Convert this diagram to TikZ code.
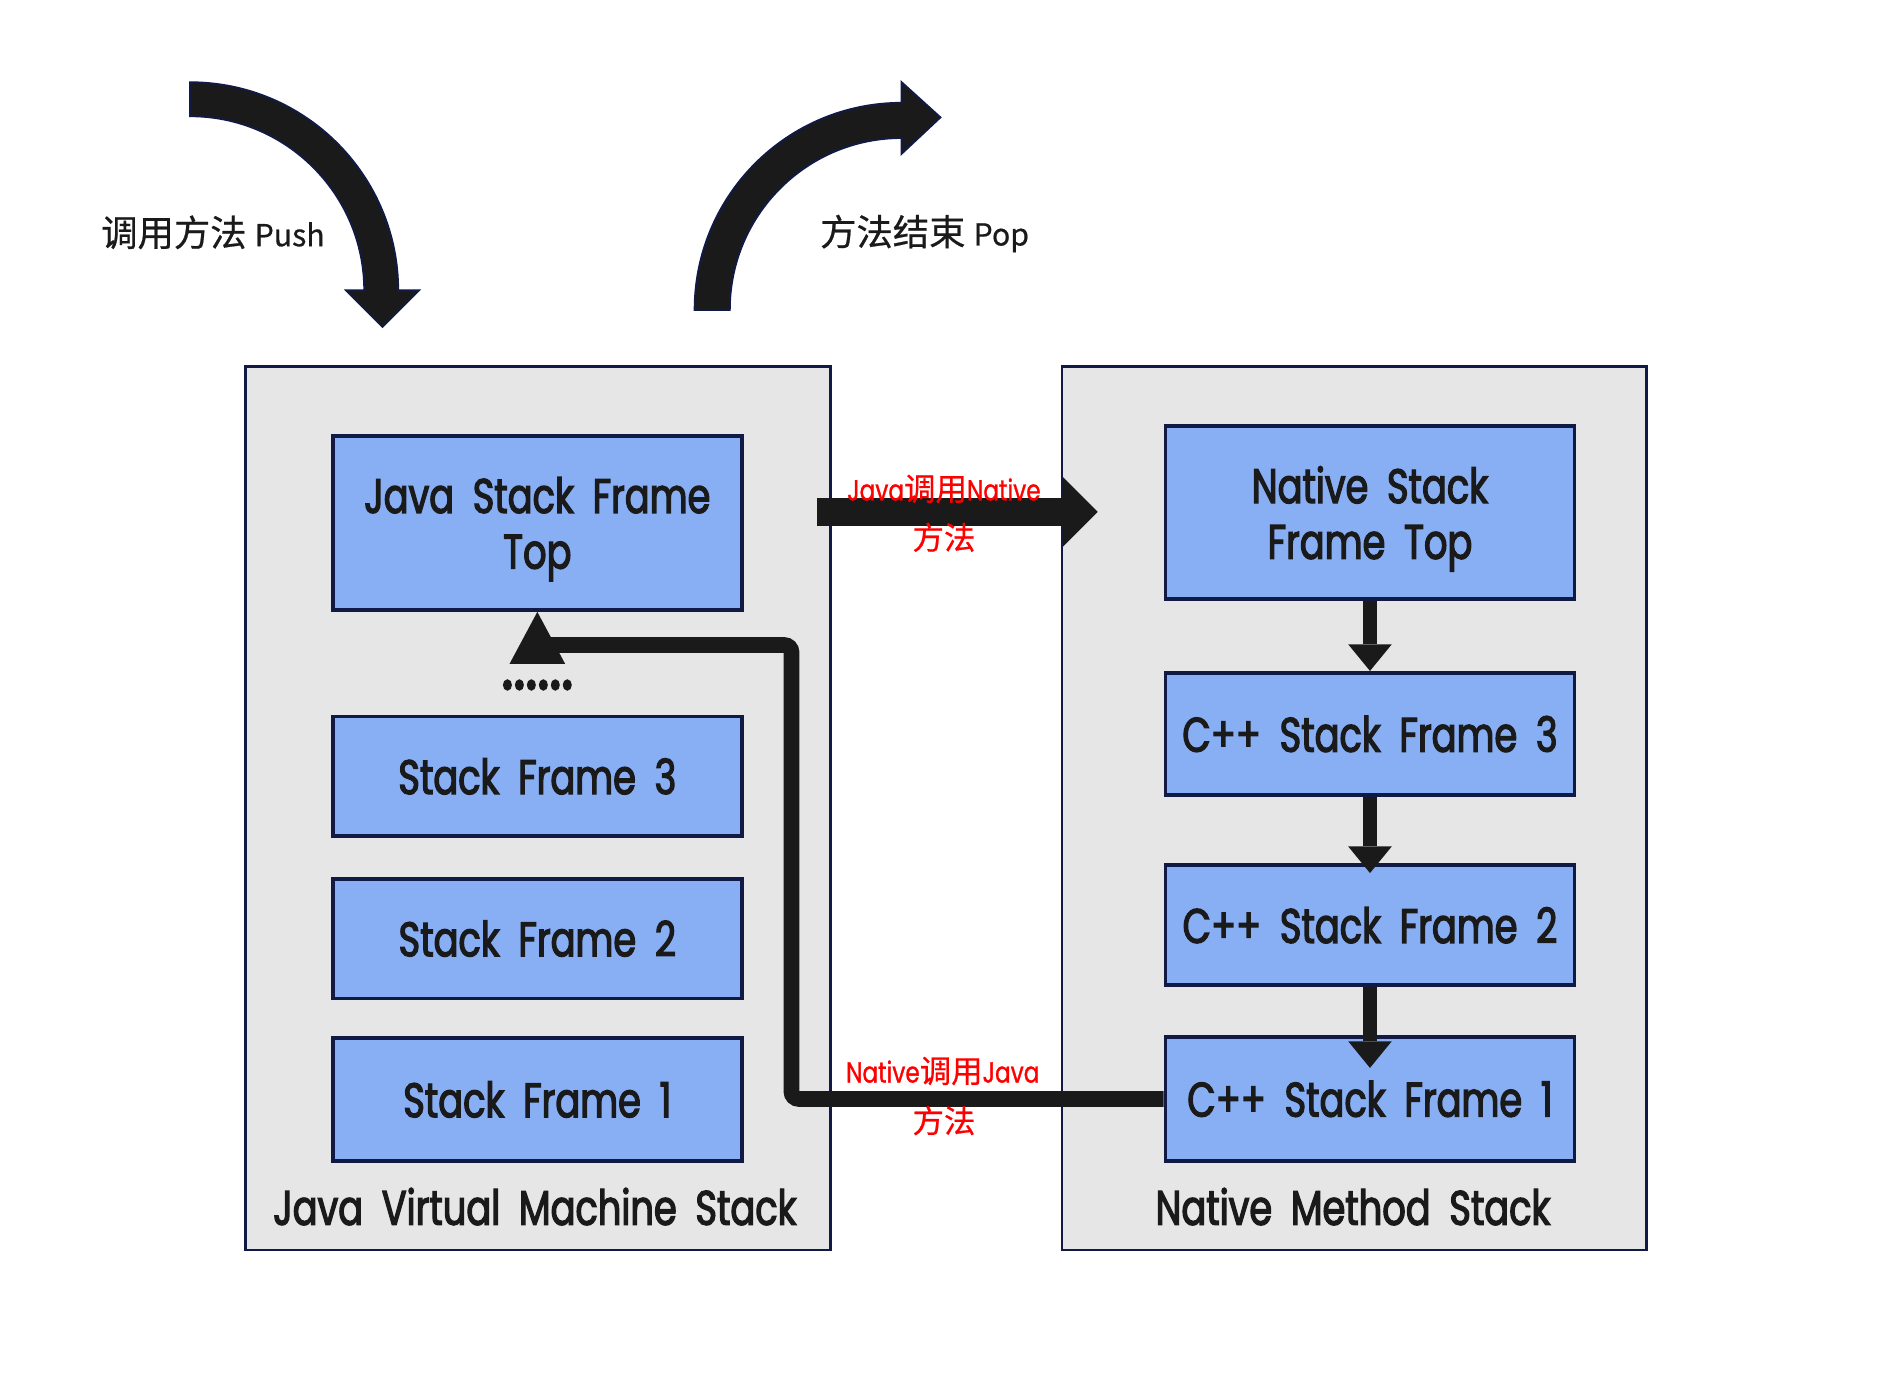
\documentclass[tikz,border=0pt]{standalone}
\usepackage{fontspec}
\setmainfont{Poppins}[FakeStretch=0.76,FakeBold=2.6,WordSpace=1.9]
\newfontfamily\zh{Noto Sans CJK SC}[FakeBold=0.6]
\newfontfamily\lat{Poppins}[FakeStretch=0.8,FakeBold=1]
\usetikzlibrary{arrows.meta}
\definecolor{navy}{HTML}{111A45}
\definecolor{cont}{HTML}{E6E6E6}
\definecolor{boxblue}{HTML}{88AFF4}
\definecolor{ink}{HTML}{1A1A1A}
\definecolor{inkred}{HTML}{FF0000}
\begin{document}
\begin{tikzpicture}[x=0.5pt,y=-0.5pt,
  container/.style={draw=navy,line width=1.1pt,fill=cont,rectangle,minimum width=241.5pt,minimum height=365pt,inner sep=0pt},
  frame/.style={draw=navy,line width=1.6pt,fill=boxblue,rectangle,minimum width=169pt,inner sep=0pt,align=center,text=ink,font=\fontsize{20pt}{23pt}\selectfont},
  caption/.style={text=ink,inner sep=0pt,font=\fontsize{20pt}{23pt}\selectfont},
  redlbl/.style={text=inkred,inner sep=0pt},
  toplbl/.style={text=ink,inner sep=0pt},
  flow/.style={draw=ink,line width=6pt,-{Triangle[width=18pt,length=11pt,line width=0pt]}},
  blk/.style={fill=ink,draw=navy,line width=0.8pt,line join=miter}
]
\fill[white] (0,0) rectangle (1565,1139);
\useasboundingbox (0,0) rectangle (1565,1139);

% containers
\node[container] (jvm) at (444.5,668) {};
\node[container] (nms) at (1119,668) {};

% top curved arrows
\draw[blk] (157,68) arc[start angle=-90,end angle=0,radius=172] -- (346,240) -- (316,270) -- (286,240) -- (301,240) arc[start angle=0,end angle=-90,radius=144] -- cycle;
\draw[blk] (574,256) arc[start angle=180,end angle=270,radius=171] -- (745,68) -- (777,97) -- (745,127) -- (745,114) arc[start angle=270,end angle=180,radius=142] -- cycle;
\node[toplbl] (pushlbl) at (176,192) {\zh\fontsize{15pt}{17pt}\selectfont 调用方法 {\fontsize{12.5pt}{14pt}\selectfont Push}};
\node[toplbl] (poplbl) at (764,193) {\zh\fontsize{15pt}{17pt}\selectfont 方法结束 {\fontsize{12.5pt}{14pt}\selectfont Pop}};

% Java stack frames
\node[frame,minimum height=72pt,text depth=0pt] (jtop) at (444,432) {Java Stack Frame\\Top};
\node[text=ink,inner sep=0pt,font=\fontsize{31pt}{33pt}\selectfont] (dots) at (444,566) {......};
\node[frame,minimum height=49.5pt] (sf3) at (444,641.5) {Stack Frame 3};
\node[frame,minimum height=49.5pt] (sf2) at (444,775.5) {Stack Frame 2};
\node[frame,minimum height=50.5pt] (sf1) at (444,908.5) {Stack Frame 1};
\node[caption] (jvmlbl) at (442,997) {Java Virtual Machine Stack};

% Native stack frames
\node[frame,minimum height=71.5pt,text depth=0pt] (ntop) at (1132,423.5) {Native Stack\\Frame Top};
\node[frame,minimum height=50.5pt] (c3) at (1132,606.5) {C++ Stack Frame 3};
\node[frame,minimum height=49.5pt] (c2) at (1132,764.5) {C++ Stack Frame 2};
\node[frame,minimum height=51pt] (c1) at (1132,908) {C++ Stack Frame 1};
\node[caption] (nmslbl) at (1118,997) {Native Method Stack};

% native chain
\draw[flow] (ntop.south) -- (c3.north);
\draw[flow] (c3.south) -- ([yshift=-4pt]c2.north);
\draw[flow] (c2.south) -- ([yshift=-13.5pt]c1.north);

% Java -> Native
\coordinate (jn1) at (675,423);
\coordinate (jn2) at (907,423);
\draw[draw=ink,line width=11.5pt,-{Triangle[width=29pt,length=14.5pt,line width=0pt]}] (jn1) -- (jn2);

% Native -> Java
\coordinate (nj1) at (654,908);
\coordinate (nj2) at (654,533);
\coordinate (nj3) at (444,533);
\coordinate (njh) at (444,547);
\draw[draw=ink,line width=6.5pt,rounded corners=3pt] (c1.west) -- (nj1) -- (nj2) -- (nj3);
\draw[draw=ink,line width=6.5pt,-{Triangle[width=23pt,length=21.5pt,line width=0pt]}] (njh) -- (jtop.south);

% red labels
\node[redlbl] (lblA1) at (780,404) {{\lat\fontsize{12pt}{14pt}\selectfont Java}{\zh\fontsize{13pt}{15pt}\selectfont 调用}{\lat\fontsize{12pt}{14pt}\selectfont Native}};
\node[redlbl] (lblA2) at (780,444) {\zh\fontsize{13pt}{15pt}\selectfont 方法};
\node[redlbl] (lblB1) at (779,885) {{\lat\fontsize{12pt}{14pt}\selectfont Native}{\zh\fontsize{13pt}{15pt}\selectfont 调用}{\lat\fontsize{12pt}{14pt}\selectfont Java}};
\node[redlbl] (lblB2) at (780,926) {\zh\fontsize{13pt}{15pt}\selectfont 方法};
\end{tikzpicture}
\end{document}
